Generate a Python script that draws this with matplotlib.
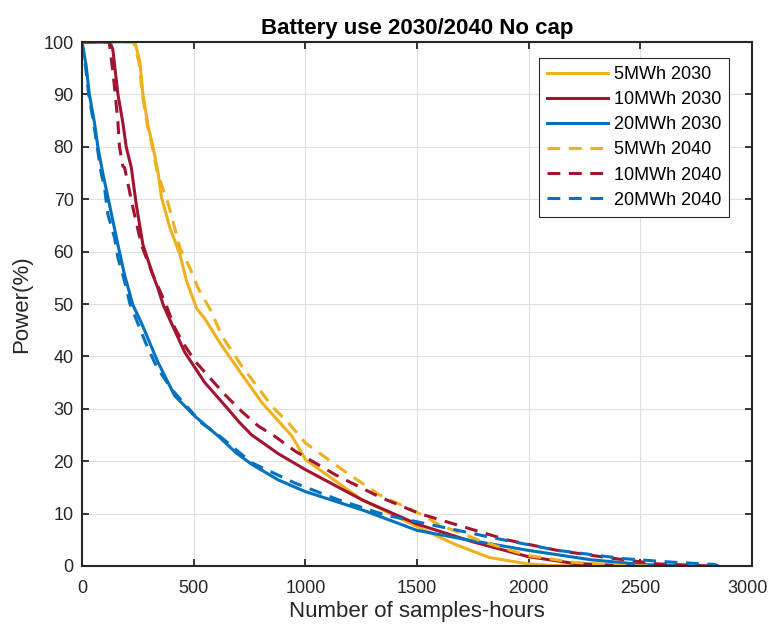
import numpy as np
import matplotlib
matplotlib.use("Agg")
from matplotlib import pyplot as plt
from matplotlib.transforms import ScaledTranslation

plt.rcParams['font.family'] = ['Liberation Sans', 'DejaVu Sans']

# Duration curves: samples-hours (x) vs power % (y)
x_5_2030 = [0, 237, 259, 273, 296, 318, 341, 356, 394, 439, 469, 514, 550, 625, 715, 805, 940,
            1001, 1255, 1501, 1661, 1751, 1826, 1996, 2100, 2200]
y_5_2030 = [100, 100, 96.3, 90, 84, 80, 75, 70.3, 64.5, 59.4, 54.3, 49.1, 47.2, 42.1, 36.6, 31.2, 24.8,
            20.3, 12.6, 7.5, 4.3, 2.8, 1.6, 0.4, 0.1, 0]

x_10_2030 = [0, 125, 138, 161, 183, 198, 221, 243, 273, 318, 340, 364, 385, 460, 550, 655, 705, 760,
             880, 1000, 1255, 1500, 1751, 1996, 2201, 2426, 2650]
y_10_2030 = [100, 100, 98.6, 90, 84.6, 80, 76, 69, 61.3, 55.5, 53, 49.8, 47.8, 40.8, 35, 29.9, 27.4, 25.0,
             21.4, 18.4, 12.6, 8.0, 4.6, 1.8, 0.5, 0.05, 0]

x_20_2030 = [0, 18, 33, 56, 71, 93, 123, 161, 191, 228, 264, 340, 415, 505, 610, 690, 760,
             880, 1000, 1255, 1500, 1751, 1996, 2277, 2502, 2720]
y_20_2030 = [100, 95.7, 90, 84.6, 80, 75, 69, 61.3, 55.5, 49.8, 46.6, 38.9, 32.5, 28.6, 24.8, 21.6, 19.4,
             16.4, 14.2, 10.7, 6.8, 4.8, 3.0, 1.2, 0.3, 0]

x_5_2040 = [0, 230, 255, 270, 293, 315, 338, 387, 439, 484, 520, 580, 625, 715, 805, 850, 925,
            1000, 1165, 1331, 1526, 1601, 1721, 1796, 1996, 2201, 2426, 2550]
y_5_2040 = [100, 100, 96.3, 90, 84, 80, 75, 69, 60.7, 56.8, 53, 48.5, 44, 38.2, 33.1, 30.5, 27.3,
            23.5, 18.4, 13.6, 9.7, 7.8, 5.9, 4.6, 2.0, 0.7, 0.1, 0]

x_10_2040 = [0, 122, 138, 149, 161, 168, 183, 191, 228, 266, 318, 375, 415, 452, 508, 577, 640, 715,
             790, 865, 955, 1135, 1331, 1511, 1706, 1901, 2126, 2351, 2577, 2817]
y_10_2040 = [100, 100, 94.4, 90, 84.6, 80, 76.3, 76, 68.4, 61.3, 55.5, 50, 45.5, 42.6, 39, 35.7, 32.7, 29.5,
             26.7, 24.7, 21.9, 17.4, 13.2, 10, 7.5, 5.0, 3.0, 1.6, 0.4, 0]

x_20_2040 = [0, 15, 30, 52, 68, 86, 101, 116, 146, 161, 191, 215, 287, 332, 400, 535, 625, 760,
             955, 1150, 1360, 1571, 1751, 1826, 2126, 2426, 2652, 2832, 2850]
y_20_2040 = [100, 95.7, 90, 84.6, 80, 75, 72.2, 67.1, 62.6, 58.8, 54.3, 50, 42.4, 38.2, 33.8, 27.3, 24.5, 19.7,
             15.8, 12.6, 9.7, 7.8, 6.2, 5.5, 3.0, 1.4, 0.7, 0.3, 0]

c_yel = '#EDB120'
c_red = '#A2142F'
c_blu = '#0072BD'
dash = (0, (4.2, 2.8))
lw = 2.2

fig = plt.figure(figsize=(7.69, 6.27), dpi=100)
ax = fig.add_axes([0.1066, 0.0973, 0.8713, 0.8357])

ax.plot(x_5_2030, y_5_2030, color=c_yel, lw=lw, label='5MWh 2030')
ax.plot(x_10_2030, y_10_2030, color=c_red, lw=lw, label='10MWh 2030')
ax.plot(x_20_2030, y_20_2030, color=c_blu, lw=lw, label='20MWh 2030')
ax.plot(x_5_2040, y_5_2040, color=c_yel, lw=lw, ls=dash, label='5MWh 2040')
ax.plot(x_10_2040, y_10_2040, color=c_red, lw=lw, ls=dash, label='10MWh 2040')
ax.plot(x_20_2040, y_20_2040, color=c_blu, lw=lw, ls=dash, label='20MWh 2040')

ax.set_xlim(0, 3000)
ax.set_ylim(0, 100)
ax.set_xticks(np.arange(0, 3001, 500))
ax.set_yticks(np.arange(0, 101, 10))
ax.grid(True, color='#DFDFDF', lw=0.8)
ax.set_axisbelow(True)
ax.tick_params(direction='in', top=True, right=True, labelsize=13, length=5, width=1.3,
               colors='#262626')
ax.tick_params(axis='x', pad=10)
ax.tick_params(axis='y', pad=6)
for s in ax.spines.values():
    s.set_linewidth(1.5)
    s.set_color('#262626')

# nudge the last x tick label so it stays inside the figure
last = ax.get_xticklabels()[-1]
last.set_transform(last.get_transform() + ScaledTranslation(-4 / 100, 0, fig.dpi_scale_trans))

ax.set_xlabel('Number of samples-hours', fontsize=16, color='#262626', labelpad=3)
ax.set_ylabel('Power(%)', fontsize=16, color='#262626', labelpad=8)
ax.set_title('Battery use 2030/2040 No cap', fontsize=16, fontweight='bold', pad=6)

leg = ax.legend(loc='upper right', bbox_to_anchor=(0.9657, 0.9695), borderaxespad=0,
                fontsize=13, fancybox=False, framealpha=1, edgecolor='#262626',
                handlelength=3.4, handletextpad=0.3, labelspacing=0.45, borderpad=0.45)
leg.get_frame().set_linewidth(0.8)

fig.savefig('out.png', dpi=100)
